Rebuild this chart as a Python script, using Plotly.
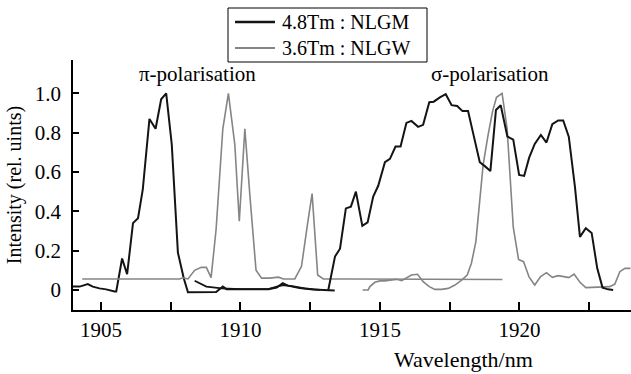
import plotly.graph_objects as go

# 4.8Tm:NLGM (black) - pi-polarisation segment
nlgm_pi_x = [1904.0, 1904.24, 1904.53, 1904.71, 1904.95, 1905.19, 1905.49, 1905.55, 1905.76, 1905.94,
             1906.15, 1906.33, 1906.5, 1906.74, 1906.96, 1907.16, 1907.34, 1907.54, 1907.76, 1907.97,
             1908.12, 1908.54, 1909.13, 1909.37, 1909.5, 1910.0, 1910.5, 1911.0, 1911.3, 1911.52,
             1911.7, 1912.12, 1912.6, 1913.0, 1913.38]
nlgm_pi_y = [0.017, 0.017, 0.03, 0.017, 0.008, 0.003, -0.008, -0.008, 0.16, 0.08,
             0.34, 0.365, 0.51, 0.87, 0.82, 0.97, 1.0, 0.74, 0.19, 0.06,
             -0.012, -0.01, -0.01, 0.018, 0.004, 0.003, 0.003, 0.004, 0.012, 0.034,
             0.022, 0.01, 0.002, 0.0, -0.003]

# 4.8Tm:NLGM (black) - second trace in pi region
nlgm_pi2_x = [1908.36, 1908.78, 1909.33, 1910.0, 1911.0, 1911.3, 1911.52, 1911.9, 1912.3, 1912.85]
nlgm_pi2_y = [0.047, 0.017, 0.008, 0.004, 0.004, 0.015, 0.025, 0.018, 0.008, 0.0]

# 4.8Tm:NLGM (black) - sigma-polarisation segment
nlgm_sig_x = [1913.15, 1913.39, 1913.57, 1913.78, 1913.96, 1914.14, 1914.37, 1914.56, 1914.76, 1914.94,
              1915.18, 1915.36, 1915.56, 1915.74, 1915.95, 1916.13, 1916.37, 1916.55, 1916.77, 1916.93,
              1917.15, 1917.36, 1917.57, 1917.77, 1917.96, 1918.16, 1918.37, 1918.58, 1918.76, 1918.96,
              1919.16, 1919.33, 1919.57, 1919.78, 1919.99, 1920.17, 1920.35, 1920.55, 1920.77, 1920.97,
              1921.18, 1921.39, 1921.57, 1921.77, 1921.99, 1922.17, 1922.38, 1922.59, 1922.79, 1922.98,
              1923.18, 1923.36]
nlgm_sig_y = [0.0, 0.17, 0.21, 0.415, 0.424, 0.50, 0.326, 0.344, 0.475, 0.53,
              0.65, 0.667, 0.73, 0.73, 0.85, 0.86, 0.83, 0.84, 0.955, 0.958,
              0.98, 0.996, 0.94, 0.936, 0.91, 0.91, 0.78, 0.65, 0.63, 0.605,
              0.916, 0.94, 0.78, 0.765, 0.585, 0.58, 0.673, 0.743, 0.789, 0.75,
              0.843, 0.862, 0.862, 0.78, 0.526, 0.27, 0.314, 0.29, 0.11, 0.012,
              0.003, 0.0]

# 3.6Tm:NLGW (grey) - pi-polarisation segment
nlgw_pi_x = [1904.33, 1905.0, 1906.0, 1907.0, 1907.82, 1907.94, 1908.12, 1908.36, 1908.6, 1908.78,
             1908.95, 1909.13, 1909.37, 1909.57, 1909.8, 1909.96, 1910.16, 1910.34, 1910.56, 1910.76,
             1911.06, 1911.36, 1911.54, 1911.95, 1912.19, 1912.4, 1912.57, 1912.77, 1912.97, 1914.0,
             1915.0, 1916.0, 1917.0, 1918.0, 1919.39]
nlgw_pi_y = [0.056, 0.056, 0.056, 0.056, 0.056, 0.062, 0.056, 0.10, 0.115, 0.115,
             0.063, 0.31, 0.82, 1.0, 0.74, 0.35, 0.82, 0.48, 0.10, 0.06,
             0.06, 0.065, 0.056, 0.056, 0.12, 0.33, 0.49, 0.076, 0.056, 0.056,
             0.056, 0.056, 0.056, 0.056, 0.053]

# 3.6Tm:NLGW (grey) - sigma-polarisation segment
nlgw_sig_x = [1914.38, 1914.58, 1914.64, 1914.82, 1915.0, 1915.18, 1915.36, 1915.6, 1915.78, 1915.95,
              1916.13, 1916.35, 1916.55, 1916.77, 1916.97, 1917.21, 1917.45, 1917.69, 1917.93, 1918.13,
              1918.28, 1918.44, 1918.58, 1918.7, 1918.88, 1919.04, 1919.18, 1919.38, 1919.56, 1919.78,
              1919.97, 1920.15, 1920.35, 1920.55, 1920.76, 1920.97, 1921.18, 1921.39, 1921.59, 1921.77,
              1921.96, 1922.17, 1922.38, 1922.59, 1922.79, 1923.0, 1923.24, 1923.42, 1923.6, 1923.78,
              1923.98]
nlgw_sig_y = [0.0, 0.0, 0.017, 0.039, 0.046, 0.046, 0.05, 0.054, 0.047, 0.063,
              0.076, 0.08, 0.042, 0.017, 0.003, 0.003, 0.008, 0.025, 0.05, 0.076,
              0.136, 0.246, 0.45, 0.636, 0.79, 0.91, 0.98, 1.0, 0.82, 0.32,
              0.155, 0.144, 0.065, 0.025, 0.068, 0.088, 0.064, 0.073, 0.068, 0.063,
              0.081, 0.039, 0.012, 0.014, 0.014, 0.017, 0.017, 0.03, 0.093, 0.11,
              0.11]

x_tickvals = [1905, 1907.5, 1910, 1912.5, 1915, 1917.5, 1920, 1922.5]
x_ticktext = ["1905", "", "1910", "", "1915", "", "1920", ""]
y_tickvals = [0, 0.2, 0.4, 0.6, 0.8, 1.0]
y_ticktext = ["0", "0.2", "0.4", "0.6", "0.8", "1.0"]
legend_names = ["4.8Tm : NLGM", "3.6Tm : NLGW"]

BLACK = "#141414"
GREY = "#858585"
FONT = "Liberation Serif"

fig = go.Figure()
fig.add_trace(go.Scatter(x=nlgm_pi_x, y=nlgm_pi_y, mode="lines", name=legend_names[0],
                         line=dict(color=BLACK, width=2), showlegend=False))
fig.add_trace(go.Scatter(x=nlgw_pi_x, y=nlgw_pi_y, mode="lines", name=legend_names[1],
                         line=dict(color=GREY, width=1.6), showlegend=False))
fig.add_trace(go.Scatter(x=nlgm_pi2_x, y=nlgm_pi2_y, mode="lines", name=legend_names[0],
                         line=dict(color=BLACK, width=1.8), showlegend=False))
fig.add_trace(go.Scatter(x=nlgw_sig_x, y=nlgw_sig_y, mode="lines", name=legend_names[1],
                         line=dict(color=GREY, width=1.6), showlegend=False))
fig.add_trace(go.Scatter(x=nlgm_sig_x, y=nlgm_sig_y, mode="lines", name=legend_names[0],
                         line=dict(color=BLACK, width=2), showlegend=False))

L, R, T, B, W, H = 73, 0, 60, 64, 631, 374
pw = W - L - R
ph = H - T - B


def px(xp):
    return (xp - L) / pw


def py(yp):
    return (H - B - yp) / ph


# hand-drawn legend box (compact row spacing like the reference)
shapes = [
    dict(type="rect", xref="paper", yref="paper", x0=px(228), x1=px(427), y0=py(62), y1=py(8),
         line=dict(color="black", width=1), fillcolor="white", layer="above"),
    dict(type="line", xref="paper", yref="paper", x0=px(235), x1=px(275), y0=py(22), y1=py(22),
         line=dict(color=BLACK, width=2.5), layer="above"),
    dict(type="line", xref="paper", yref="paper", x0=px(235), x1=px(275), y0=py(48), y1=py(48),
         line=dict(color=GREY, width=1.8), layer="above"),
]

fig.update_layout(
    width=W, height=H, autosize=False,
    margin=dict(l=L, r=R, t=T, b=B),
    paper_bgcolor="white", plot_bgcolor="white",
    font=dict(family=FONT, size=21, color="black"),
    showlegend=False,
    shapes=shapes,
    xaxis=dict(range=[1904.0, 1924.0], tickvals=x_tickvals, ticktext=x_ticktext,
               ticks="inside", ticklen=8, tickcolor="black", tickwidth=1.5,
               showline=True, linecolor="black", linewidth=1.5, showgrid=False,
               zeroline=False, ticklabelstandoff=0,
               tickfont=dict(family=FONT, size=21)),
    yaxis=dict(range=[-0.102, 1.17], tickvals=y_tickvals, ticktext=y_ticktext,
               ticks="inside", ticklen=6, tickcolor="black", tickwidth=1.5,
               showline=True, linecolor="black", linewidth=1.5, showgrid=False,
               zeroline=False, ticklabelstandoff=6,
               tickfont=dict(family=FONT, size=21),
               title=dict(text="Intensity (rel. uints)", standoff=8,
                          font=dict(family=FONT, size=20))),
    annotations=[
        dict(x=1908.48, y=1.10, xref="x", yref="y", text="π-polarisation", showarrow=False,
             font=dict(family=FONT, size=21)),
        dict(x=1918.94, y=1.10, xref="x", yref="y", text="σ-polarisation", showarrow=False,
             font=dict(family=FONT, size=21)),
        dict(x=px(463), y=py(359), xref="paper", yref="paper",
             xanchor="center", yanchor="middle",
             text="Wavelength/nm", showarrow=False,
             font=dict(family=FONT, size=22)),
        dict(x=px(280), y=py(35), xref="paper", yref="paper", xanchor="left", yanchor="middle",
             align="left", text=legend_names[0] + "<br>" + legend_names[1], showarrow=False,
             font=dict(family=FONT, size=20)),
    ],
)

fig.write_html("out.html")
